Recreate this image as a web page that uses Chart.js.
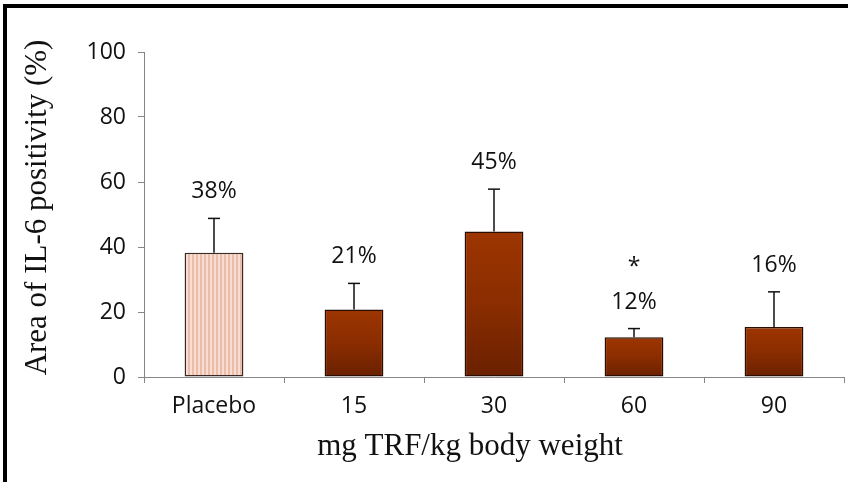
<!DOCTYPE html>
<html><head><meta charset="utf-8">
<script src="https://cdn.jsdelivr.net/npm/chart.js@4/dist/chart.umd.min.js"></script>
<style>html,body{margin:0;padding:0;background:#fff;overflow:hidden}#wrap{position:relative;width:848px;height:482px}</style>
</head><body><div id="wrap"><canvas id="c" width="848" height="482"></canvas></div>
<script>
// ---- data ----
const categories = ["Placebo", "15", "30", "60", "90"];
const meanValues = [38.2, 20.8, 44.8, 12.2, 15.4];
const errorValues = [10.6, 8.0, 13.0, 2.7, 10.8];
const valueLabels = ["38%", "21%", "45%", "12%", "16%"];
const significance = ["", "", "", "*", ""];
const yTickValues = [0, 20, 40, 60, 80, 100];
const yTitle = "Area of IL-6 positivity (%)";
const xTitle = "mg TRF/kg body weight";

// ---- styles ----
const TICK_FONT = {family: "'Open Sans', sans-serif", size: 23};
const TITLE_FONT = "31px 'Liberation Serif', 'Times New Roman', serif";
const AXIS_GREY = "#868686";
const TEXT = "#111111";

function makePlacebo() {
  const c = document.createElement('canvas');
  c.width = 4; c.height = 4;
  const g = c.getContext('2d');
  g.fillStyle = '#ebbda9'; g.fillRect(0, 0, 4, 4);
  g.fillStyle = '#f8ded2'; g.fillRect(2, 0, 2, 4);
  return g.createPattern(c, 'repeat');
}
const placeboPattern = makePlacebo();

function barFill(ctx) {
  if (ctx.type !== 'data') return '#8a2e00';
  if (ctx.dataIndex === 0) return placeboPattern;
  const chart = ctx.chart, y = chart.scales.y;
  if (!y || !chart.chartArea) return '#8a2e00';
  const top = y.getPixelForValue(ctx.parsed.y), bot = y.getPixelForValue(0);
  const g = chart.ctx.createLinearGradient(0, top, 0, bot);
  g.addColorStop(0, '#9d3500');
  g.addColorStop(0.5, '#8a2d00');
  g.addColorStop(1, '#6a2000');
  return g;
}

const framePlugin = {
  id: 'frame',
  beforeDraw(chart) {
    const c = chart.ctx;
    c.save();
    c.fillStyle = '#fff'; c.fillRect(0, 0, chart.width, chart.height);
    c.fillStyle = '#000';
    c.fillRect(3, 4, chart.width - 3, 4);
    c.fillRect(3, 4, 4, chart.height - 4);
    c.restore();
  }
};

const annotPlugin = {
  id: 'annot',
  afterDatasetsDraw(chart) {
    const c = chart.ctx, y = chart.scales.y;
    const meta = chart.getDatasetMeta(0);
    c.save();
    meta.data.forEach((el, i) => {
      const x = el.x;
      const yBar = y.getPixelForValue(meanValues[i]);
      const yErr = y.getPixelForValue(meanValues[i] + errorValues[i]);
      c.strokeStyle = '#111'; c.lineWidth = 1.5;
      c.beginPath(); c.moveTo(x, yBar); c.lineTo(x, yErr); c.stroke();
      c.beginPath(); c.moveTo(x - 6, yErr); c.lineTo(x + 6, yErr); c.stroke();
      c.fillStyle = TEXT;
      c.font = "23px 'Open Sans', sans-serif";
      c.textAlign = 'center'; c.textBaseline = 'alphabetic';
      const base = yErr - 20;
      c.fillText(valueLabels[i], x, base);
      if (significance[i]) c.fillText(significance[i], x, base - 35);
    });
    // axis titles
    const ca = chart.chartArea;
    c.font = TITLE_FONT; c.fillStyle = TEXT;
    c.textAlign = 'center'; c.textBaseline = 'alphabetic';
    c.fillText(xTitle, (ca.left + ca.right) / 2 - 24, 455);
    c.translate(46, (ca.top + ca.bottom) / 2 - 7);
    c.rotate(-Math.PI / 2);
    c.fillText(yTitle, 0, 0);
    c.restore();
  }
};

new Chart(document.getElementById('c'), {
  type: 'bar',
  data: {
    labels: categories,
    datasets: [{
      data: meanValues,
      backgroundColor: barFill,
      borderColor: ['#3a2a26', '#2a0c00', '#2a0c00', '#2a0c00', '#2a0c00'],
      borderWidth: 1.5,
      borderSkipped: false,
      barPercentage: 0.42,
      categoryPercentage: 1
    }]
  },
  options: {
    responsive: false,
    devicePixelRatio: 1,
    animation: false,
    layout: {padding: {left: 0, right: 4, top: 52, bottom: 0}},
    plugins: {legend: {display: false}, tooltip: {enabled: false}},
    scales: {
      x: {
        offset: true,
        grid: {offset: true, drawOnChartArea: false, drawTicks: true, tickLength: 6, color: AXIS_GREY},
        border: {color: AXIS_GREY, width: 1},
        ticks: {font: TICK_FONT, color: TEXT, padding: 10, maxRotation: 0},
        afterFit(s) { s.height = 482 - 377; }
      },
      y: {
        min: 0, max: 100,
        afterBuildTicks(s) { s.ticks = yTickValues.map(v => ({value: v})); },
        grid: {drawOnChartArea: false, drawTicks: true, tickLength: 6, color: AXIS_GREY},
        border: {color: AXIS_GREY, width: 1},
        ticks: {font: TICK_FONT, color: TEXT, padding: 12},
        afterFit(s) { s.width = 144; }
      }
    }
  },
  plugins: [framePlugin, annotPlugin]
});
</script>
</body></html>
